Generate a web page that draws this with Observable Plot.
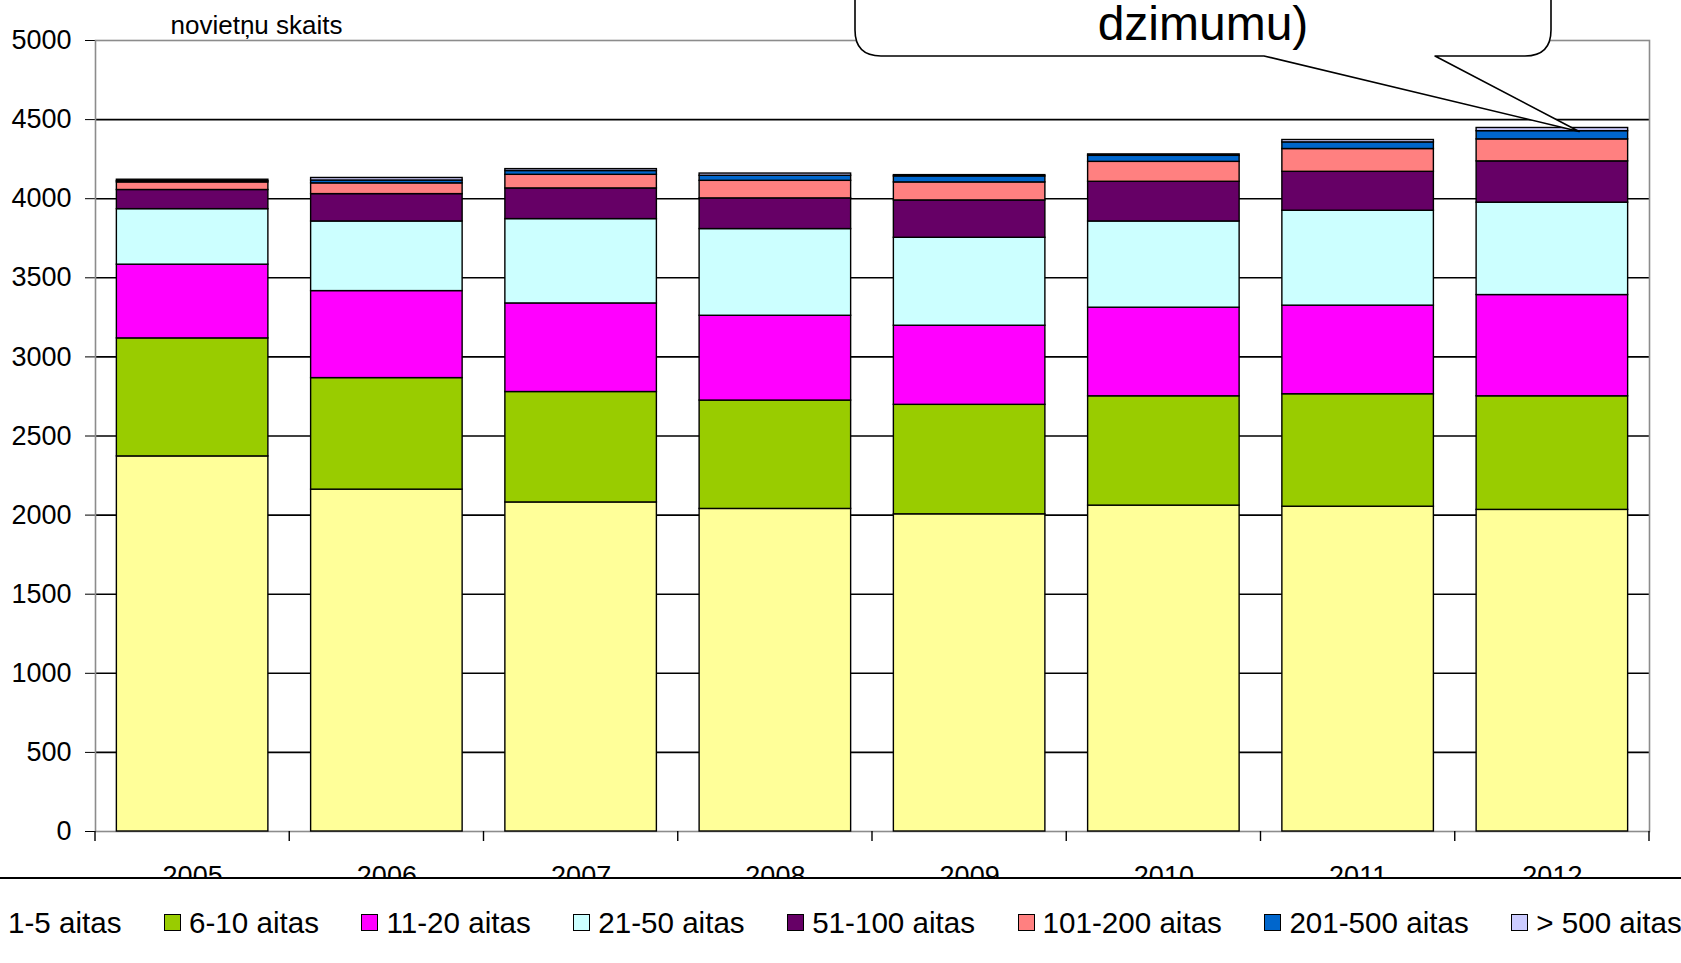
<!DOCTYPE html>
<html><head><meta charset="utf-8">
<script src="https://cdn.jsdelivr.net/npm/d3@7"></script>
<script src="https://cdn.jsdelivr.net/npm/@observablehq/plot@0.6"></script>
<style>
html,body{margin:0;padding:0;background:#fff;width:1681px;height:963px;overflow:hidden;font-family:"Liberation Sans",Arial,sans-serif;}
#chart svg{display:block;}
#legend{position:relative;height:84px;border-top:2px solid #000;overflow:hidden;white-space:nowrap;background:#fff;}
#legend .items{position:absolute;left:-17px;top:29px;display:flex;align-items:center;}
.item{display:flex;align-items:center;margin-right:42.5px;font-size:29.6px;line-height:1;color:#000;}
.sw{width:15px;height:15px;border:1.5px solid #000;margin-right:8px;box-sizing:content-box;}
</style></head><body>
<div id="chart"></div>
<div id="legend"><div class="items"></div></div>
<script>
const years = ["2005","2006","2007","2008","2009","2010","2011","2012"];
const categories = ["1-5 aitas","6-10 aitas","11-20 aitas","21-50 aitas","51-100 aitas","101-200 aitas","201-500 aitas","> 500 aitas"];
const colors = ["#FFFF99","#99CC00","#FF00FF","#CCFFFF","#660066","#FF8080","#0066CC","#CCCCFF"];
const aitas1_5     = [2371, 2161, 2080, 2039, 2005, 2060, 2053, 2033];
const aitas6_10    = [746, 705, 698, 685, 692, 691, 711, 718];
const aitas11_20   = [466, 550, 560, 536, 500, 560, 560, 640];
const aitas21_50   = [351, 440, 533, 548, 556, 545, 600, 584];
const aitas51_100  = [121, 173, 194, 194, 236, 251, 246, 261];
const aitas101_200 = [48, 68, 86, 111, 114, 126, 144, 139];
const aitas201_500 = [8, 18, 24, 32, 38, 38, 42, 52];
const aitasOver500 = [9, 16, 12, 14, 8, 9, 15, 20];
const yTicks = [0, 500, 1000, 1500, 2000, 2500, 3000, 3500, 4000, 4500, 5000];
const yAxisTitle = "novietņu skaits";
const calloutText = "dzimumu)";

const series = [aitas1_5, aitas6_10, aitas11_20, aitas21_50, aitas51_100, aitas101_200, aitas201_500, aitasOver500];
const data = [];
years.forEach((yr, i) => categories.forEach((c, j) => data.push({year: yr, size: c, value: series[j][i]})));

const chart = Plot.plot({
  width: 1681, height: 877,
  marginLeft: 95, marginRight: 32, marginTop: 40, marginBottom: 46,
  style: {fontFamily: '"Liberation Sans", Arial, sans-serif', fontSize: "27px", color: "#000", background: "#fff", overflow: "hidden"},
  x: {domain: years, paddingInner: 0.22, paddingOuter: 0.11, round: false, tickSize: 0, tickPadding: 34, label: null, line: true},
  y: {domain: [0, 5000], ticks: yTicks, tickSize: 10, tickPadding: 14, tickFormat: d => String(d), label: null, line: true},
  color: {domain: categories, range: colors},
  marks: [
    Plot.ruleY(yTicks.slice(1, -1), {stroke: "#000", strokeWidth: 1.6}),
    Plot.frame({stroke: "#8c8c8c", strokeWidth: 1.6}),
    Plot.barY(data, {x: "year", y: "value", fill: "size", stroke: "#000", strokeWidth: 1.4}),
    Plot.text([yAxisTitle], {text: d => d, frameAnchor: "top-left", dx: 75, dy: -15, textAnchor: "start", lineAnchor: "middle", fontSize: 26, fill: "#000"})
  ]
});
document.getElementById("chart").appendChild(chart);

// category-boundary ticks on the x axis, from Plot's own scales
const xs = chart.scale("x"), ys = chart.scale("y");
const step = xs.step ?? (xs.range[1] - xs.range[0]) / years.length;
const bw = xs.bandwidth ?? step * 0.78;
const svg = d3.select(chart);
const y0 = ys.apply(0);
const bounds = years.map(d => xs.apply(d) + bw / 2 - step / 2);
bounds.push(xs.apply(years[years.length - 1]) + bw / 2 + step / 2);
svg.append("g").selectAll("line").data(bounds).join("line")
  .attr("x1", d => d).attr("x2", d => d).attr("y1", y0).attr("y2", y0 + 10)
  .attr("stroke", "#000").attr("stroke-width", 1.4);

// callout pointing at the 2012 bar
const lastIdx = years.length - 1;
const total = series.reduce((s, a) => s + a[lastIdx], 0);
const tipX = xs.apply(years[lastIdx]) + bw * 0.68;
const tipY = ys.apply(total - 25);
const L = 855, R = 1551, B = 56, T = -200, r = 26, g1 = 1264, g2 = 1435;
const p = `M${g1},${B} L${tipX},${tipY} L${g2},${B} L${R - r},${B} Q${R},${B} ${R},${B - r} L${R},${T} L${L},${T} L${L},${B - r} Q${L},${B} ${L + r},${B} Z`;
const cg = svg.append("g");
cg.append("path").attr("d", p).attr("fill", "#fff").attr("stroke", "#000").attr("stroke-width", 1.6).attr("stroke-linejoin", "round");
cg.append("text").attr("x", 1203).attr("y", 40).attr("text-anchor", "middle")
  .attr("font-size", 48).attr("fill", "#000").text(calloutText);

// legend
const items = d3.select("#legend .items");
categories.forEach((c, j) => {
  const it = items.append("div").attr("class", "item");
  it.append("span").attr("class", "sw").style("background", colors[j]);
  it.append("span").text(c);
});
</script>
</body></html>
